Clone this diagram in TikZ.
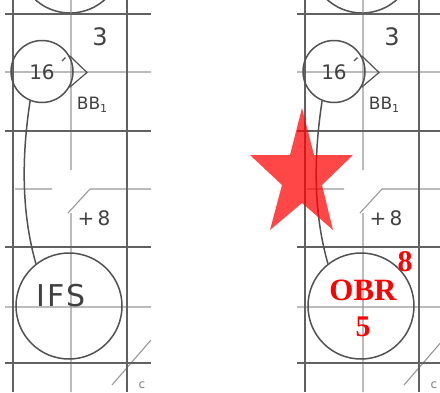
\documentclass[tikz,border=0pt]{standalone}
\usepackage{fontspec}
\setmainfont{Liberation Serif}
\newfontfamily\handfont{DejaVu Sans}
\newfontfamily\redfont{Liberation Serif}
\tikzset{
  thickgrid/.style={draw=black!62, line width=2.4pt},
  thingrid/.style={draw=black!40, line width=1.1pt},
  ink/.style={draw=black!68, line width=1.5pt},
  ring/.style={circle, ink, inner sep=0pt},
  hand/.style={text=black!75, inner sep=0pt},
  redlab/.style={text=red, inner sep=0pt, font=\redfont\bfseries},
}
\newcommand\scorepanel[2]{%
  \begin{scope}[xshift=#2, name prefix=#1-]
    \begin{scope}
      \clip (5,0) rectangle (151,392);
      \node[ring, minimum size=104pt] (top) at (70,-39) {};
      \draw[thingrid] (71,0) -- (71,170) (71,213) -- (71,392)
        (5,72) -- (151,72) (5,307) -- (151,307)
        (15,189) -- (52,189) (90,189) -- (151,189) (68,213) -- (90,189)
        (112,385) -- (151,340);
      \draw[thickgrid] (5,14) -- (151,14) (5,131) -- (151,131)
        (5,247) -- (151,247) (5,363) -- (151,363)
        (13,0) -- (13,392) (127,0) -- (127,392);
      \node[ring, minimum size=62pt] (s) at (42,71.5) {};
      \node[ring, minimum size=106pt] (b) at (69,306) {};
      \coordinate (tip) at (87,72.5);
      \draw[ink, line width=1.2pt] (s.30) -- (tip) -- (s.-30);
      \draw[ink, line width=1.1pt] (62,61) -- (65.5,57.5);
      \draw[ink] (s.248) .. controls (21,160) and (22,215) .. (b.128);
      \node[hand, font=\handfont\fontsize{24}{24}\selectfont] (three) at (100,37) {3};
      \node[hand, font=\handfont\fontsize{17}{17}\selectfont] (bb) at (92,105) {BB\raisebox{-0.3ex}{\fontsize{11}{11}\selectfont 1}};
      \node[hand, font=\handfont\fontsize{20}{20}\selectfont] (sixteen) at (42,72) {16};
      \node[hand, font=\handfont\fontsize{20}{20}\selectfont] (pe) at (94,218) {+\,8};
      \node[hand, text=black!50, font=\handfont\fontsize{12}{12}\selectfont] (cc) at (142,385) {c};
    \end{scope}
  \end{scope}}
\begin{document}
\begin{tikzpicture}[x=1pt, y=-1pt]
  \useasboundingbox (0,0) rectangle (440,392);
  \fill[white] (0,0) rectangle (440,392);
  % left panel
  \scorepanel{L}{0pt}
  \node[hand, font=\handfont\fontsize{30}{30}\selectfont] (L-ifs) at (61,296) {I\kern2pt F\kern2pt S};
  % right panel
  \scorepanel{R}{292pt}
  \fill[fill=red, fill opacity=0.72]
    (302,108) -- (314,155) -- (353,155) -- (322,185) -- (333,230)
    -- (302,203) -- (270,230) -- (282,185) -- (250,155) -- (290,155) -- cycle;
  \node[redlab, font=\redfont\bfseries\fontsize{31}{31}\selectfont] (obr) at (363,290) {OBR};
  \node[redlab, font=\redfont\bfseries\fontsize{30}{30}\selectfont] (five) at (363,327) {5};
  \node[redlab, font=\redfont\bfseries\fontsize{30}{30}\selectfont] (eight) at (405,262) {8};
\end{tikzpicture}
\end{document}
